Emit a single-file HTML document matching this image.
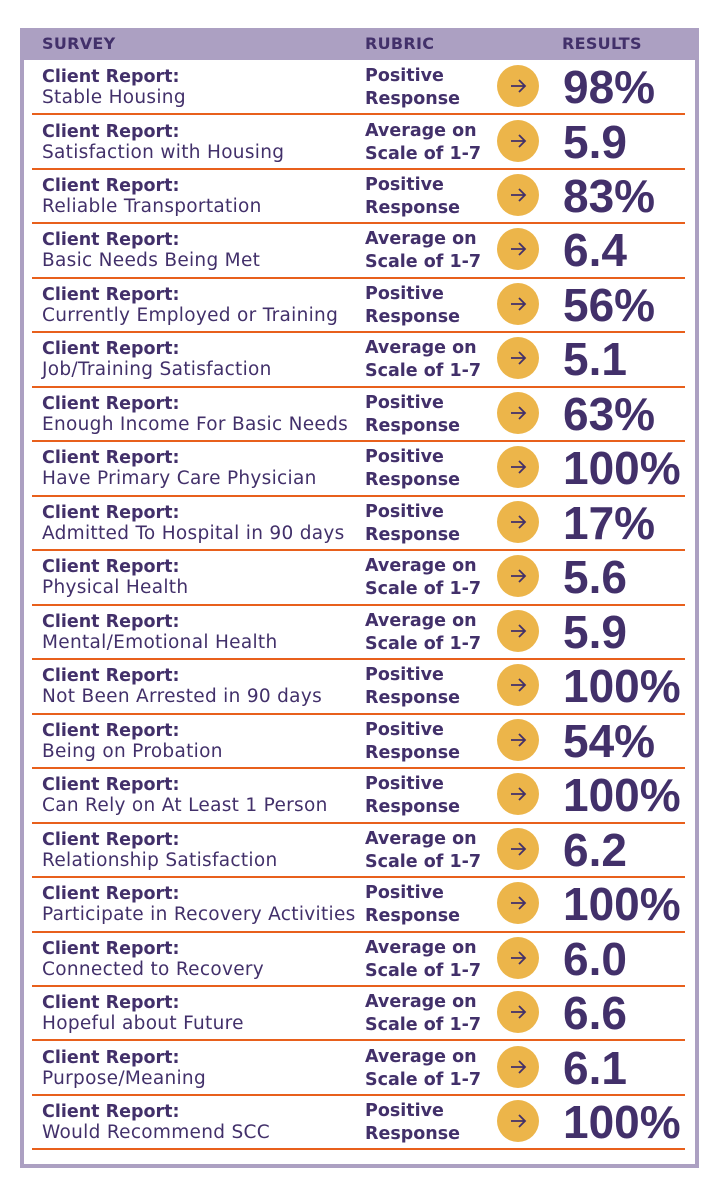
<!DOCTYPE html>
<html><head><meta charset="utf-8"><style>
body{margin:0;width:719px;height:1200px;background:#fff;font-family:"DejaVu Sans","Liberation Sans",sans-serif;color:#42306a;position:relative;overflow:hidden}
#box{position:absolute;left:20px;top:28px;width:671px;height:1136px;border:4px solid #aca0c2;border-top:none;background:#fff}
#hdr{position:absolute;left:20px;top:28px;width:679px;height:32px;background:#aca0c2}
.h{position:absolute;top:34px;font-weight:bold;font-size:16px;color:#42306a;letter-spacing:0.3px}
.row{position:absolute;left:32px;width:653px;height:54.47px;border-bottom:2px solid #e8601c;box-sizing:border-box}
.a{position:absolute;left:10px;top:5px;font-weight:bold;font-size:17.5px;line-height:22px}
.b{position:absolute;left:10px;top:26px;font-size:18.5px;line-height:22px;letter-spacing:0.3px}
.r{position:absolute;left:333px;top:4px;font-weight:bold;font-size:17.5px;line-height:23px}
.c{position:absolute;left:465px;top:4px;width:42px;height:42px;border-radius:50%;background:#ecb54a}
.c svg{position:absolute;left:11px;top:11px}
.v{position:absolute;left:531px;top:-1px;font-family:"Liberation Sans",sans-serif;font-weight:bold;font-size:46px;line-height:54px}
</style></head><body>
<svg width="0" height="0" style="position:absolute"><defs><symbol id="ar" viewBox="0 0 20 20"><path d="M3 10H17M11 4L17 10L11 16" fill="none" stroke="#42306a" stroke-width="1.8"/></symbol></defs></svg>
<div id="box"></div><div id="hdr"></div>
<div class="h" style="left:42px">SURVEY</div>
<div class="h" style="left:365px">RUBRIC</div>
<div class="h" style="left:562px">RESULTS</div>
<div class="row" style="top:61.0px"><div class="a">Client Report:</div><div class="b">Stable Housing</div><div class="r">Positive<br>Response</div><div class="c"><svg width="20" height="20"><use href="#ar"/></svg></div><div class="v">98%</div></div>
<div class="row" style="top:115.5px"><div class="a">Client Report:</div><div class="b">Satisfaction with Housing</div><div class="r">Average on<br>Scale of 1-7</div><div class="c"><svg width="20" height="20"><use href="#ar"/></svg></div><div class="v">5.9</div></div>
<div class="row" style="top:169.9px"><div class="a">Client Report:</div><div class="b">Reliable Transportation</div><div class="r">Positive<br>Response</div><div class="c"><svg width="20" height="20"><use href="#ar"/></svg></div><div class="v">83%</div></div>
<div class="row" style="top:224.4px"><div class="a">Client Report:</div><div class="b">Basic Needs Being Met</div><div class="r">Average on<br>Scale of 1-7</div><div class="c"><svg width="20" height="20"><use href="#ar"/></svg></div><div class="v">6.4</div></div>
<div class="row" style="top:278.9px"><div class="a">Client Report:</div><div class="b">Currently Employed or Training</div><div class="r">Positive<br>Response</div><div class="c"><svg width="20" height="20"><use href="#ar"/></svg></div><div class="v">56%</div></div>
<div class="row" style="top:333.4px"><div class="a">Client Report:</div><div class="b">Job/Training Satisfaction</div><div class="r">Average on<br>Scale of 1-7</div><div class="c"><svg width="20" height="20"><use href="#ar"/></svg></div><div class="v">5.1</div></div>
<div class="row" style="top:387.8px"><div class="a">Client Report:</div><div class="b">Enough Income For Basic Needs</div><div class="r">Positive<br>Response</div><div class="c"><svg width="20" height="20"><use href="#ar"/></svg></div><div class="v">63%</div></div>
<div class="row" style="top:442.3px"><div class="a">Client Report:</div><div class="b">Have Primary Care Physician</div><div class="r">Positive<br>Response</div><div class="c"><svg width="20" height="20"><use href="#ar"/></svg></div><div class="v">100%</div></div>
<div class="row" style="top:496.8px"><div class="a">Client Report:</div><div class="b">Admitted To Hospital in 90 days</div><div class="r">Positive<br>Response</div><div class="c"><svg width="20" height="20"><use href="#ar"/></svg></div><div class="v">17%</div></div>
<div class="row" style="top:551.2px"><div class="a">Client Report:</div><div class="b">Physical Health</div><div class="r">Average on<br>Scale of 1-7</div><div class="c"><svg width="20" height="20"><use href="#ar"/></svg></div><div class="v">5.6</div></div>
<div class="row" style="top:605.7px"><div class="a">Client Report:</div><div class="b">Mental/Emotional Health</div><div class="r">Average on<br>Scale of 1-7</div><div class="c"><svg width="20" height="20"><use href="#ar"/></svg></div><div class="v">5.9</div></div>
<div class="row" style="top:660.2px"><div class="a">Client Report:</div><div class="b">Not Been Arrested in 90 days</div><div class="r">Positive<br>Response</div><div class="c"><svg width="20" height="20"><use href="#ar"/></svg></div><div class="v">100%</div></div>
<div class="row" style="top:714.6px"><div class="a">Client Report:</div><div class="b">Being on Probation</div><div class="r">Positive<br>Response</div><div class="c"><svg width="20" height="20"><use href="#ar"/></svg></div><div class="v">54%</div></div>
<div class="row" style="top:769.1px"><div class="a">Client Report:</div><div class="b">Can Rely on At Least 1 Person</div><div class="r">Positive<br>Response</div><div class="c"><svg width="20" height="20"><use href="#ar"/></svg></div><div class="v">100%</div></div>
<div class="row" style="top:823.6px"><div class="a">Client Report:</div><div class="b">Relationship Satisfaction</div><div class="r">Average on<br>Scale of 1-7</div><div class="c"><svg width="20" height="20"><use href="#ar"/></svg></div><div class="v">6.2</div></div>
<div class="row" style="top:878.1px"><div class="a">Client Report:</div><div class="b">Participate in Recovery Activities</div><div class="r">Positive<br>Response</div><div class="c"><svg width="20" height="20"><use href="#ar"/></svg></div><div class="v">100%</div></div>
<div class="row" style="top:932.5px"><div class="a">Client Report:</div><div class="b">Connected to Recovery</div><div class="r">Average on<br>Scale of 1-7</div><div class="c"><svg width="20" height="20"><use href="#ar"/></svg></div><div class="v">6.0</div></div>
<div class="row" style="top:987.0px"><div class="a">Client Report:</div><div class="b">Hopeful about Future</div><div class="r">Average on<br>Scale of 1-7</div><div class="c"><svg width="20" height="20"><use href="#ar"/></svg></div><div class="v">6.6</div></div>
<div class="row" style="top:1041.5px"><div class="a">Client Report:</div><div class="b">Purpose/Meaning</div><div class="r">Average on<br>Scale of 1-7</div><div class="c"><svg width="20" height="20"><use href="#ar"/></svg></div><div class="v">6.1</div></div>
<div class="row" style="top:1095.9px"><div class="a">Client Report:</div><div class="b">Would Recommend SCC</div><div class="r">Positive<br>Response</div><div class="c"><svg width="20" height="20"><use href="#ar"/></svg></div><div class="v">100%</div></div>
</body></html>
